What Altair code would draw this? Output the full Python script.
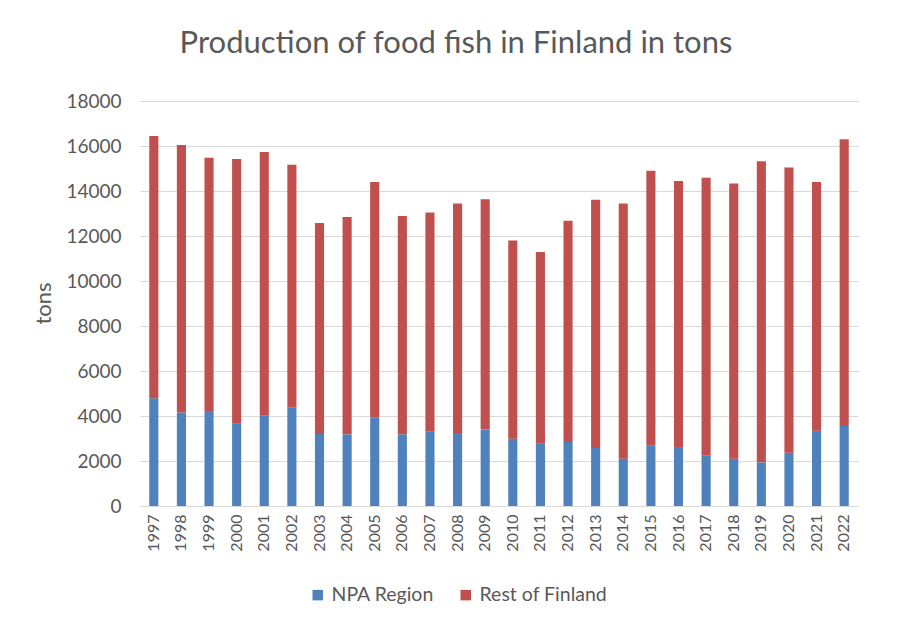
import altair as alt
import pandas as pd

years = [str(y) for y in range(1997, 2023)]
totals = [16450, 16050, 15480, 15420, 15730, 15170, 12580, 12840, 14400, 12890,
          13040, 13450, 13630, 11800, 11290, 12680, 13615, 13450, 14900, 14440,
          14590, 14330, 15320, 15050, 14400, 16300]
npa = [4790, 4160, 4220, 3660, 4015, 4370, 3200, 3185, 3925, 3185,
       3300, 3245, 3395, 2990, 2770, 2845, 2580, 2105, 2680, 2620,
       2250, 2105, 1940, 2370, 3350, 3555]
series = ["NPA Region", "Rest of Finland"]
colors = ["#4F81BD", "#C0504D"]

rows = []
for y, t, n in zip(years, totals, npa):
    rows.append({"year": y, "series": series[0], "value": n, "ord": 0})
    rows.append({"year": y, "series": series[1], "value": t - n, "ord": 1})
df = pd.DataFrame(rows)

FONT = "Lato"
GREY = "#595959"

chart = alt.Chart(df).mark_bar().encode(
    x=alt.X("year:N", sort=years,
            scale=alt.Scale(paddingInner=0.67, paddingOuter=0.335),
            axis=alt.Axis(title=None, labelAngle=-90, labelFontSize=16,
                          labelColor=GREY, labelFont=FONT, ticks=False,
                          labelPadding=8, domainColor="#d9d9d9",
                          labelBaseline="middle", labelAlign="right")),
    y=alt.Y("value:Q", stack="zero",
            scale=alt.Scale(domain=[0, 18000], nice=False),
            axis=alt.Axis(title="tons", values=list(range(0, 18001, 2000)),
                          format="d",
                          labelFontSize=19, labelColor=GREY, labelFont=FONT,
                          ticks=False, domain=False, labelPadding=19,
                          gridColor="#d9d9d9", gridWidth=1,
                          titleFontSize=22, titleFont=FONT, titleColor=GREY,
                          titleFontWeight="normal",
                          titleX=-97, titleY=202, titleBaseline="middle",
                          titleAlign="center", titleAngle=270)),
    color=alt.Color("series:N",
                    scale=alt.Scale(domain=series, range=colors),
                    legend=alt.Legend(title=None, orient="none",
                                      direction="horizontal",
                                      legendX=168, legendY=484,
                                      symbolType="square", symbolSize=110,
                                      symbolStrokeWidth=0,
                                      labelFontSize=19.5, labelColor=GREY,
                                      labelFont=FONT, columnPadding=22)),
    order=alt.Order("ord:Q", sort="ascending"),
).properties(
    width=718,
    height=405,
    autosize="none",
    padding={"left": 132, "top": 93, "right": 35, "bottom": 115},
    title=alt.TitleParams("Production of food fish in Finland in tons",
                          fontSize=31, font=FONT, color=GREY,
                          fontWeight="normal", offset=32, anchor="middle",
                          dx=-43),
).configure_view(stroke=None)

chart.save("out.html", embed_options={"renderer": "svg", "actions": False})
